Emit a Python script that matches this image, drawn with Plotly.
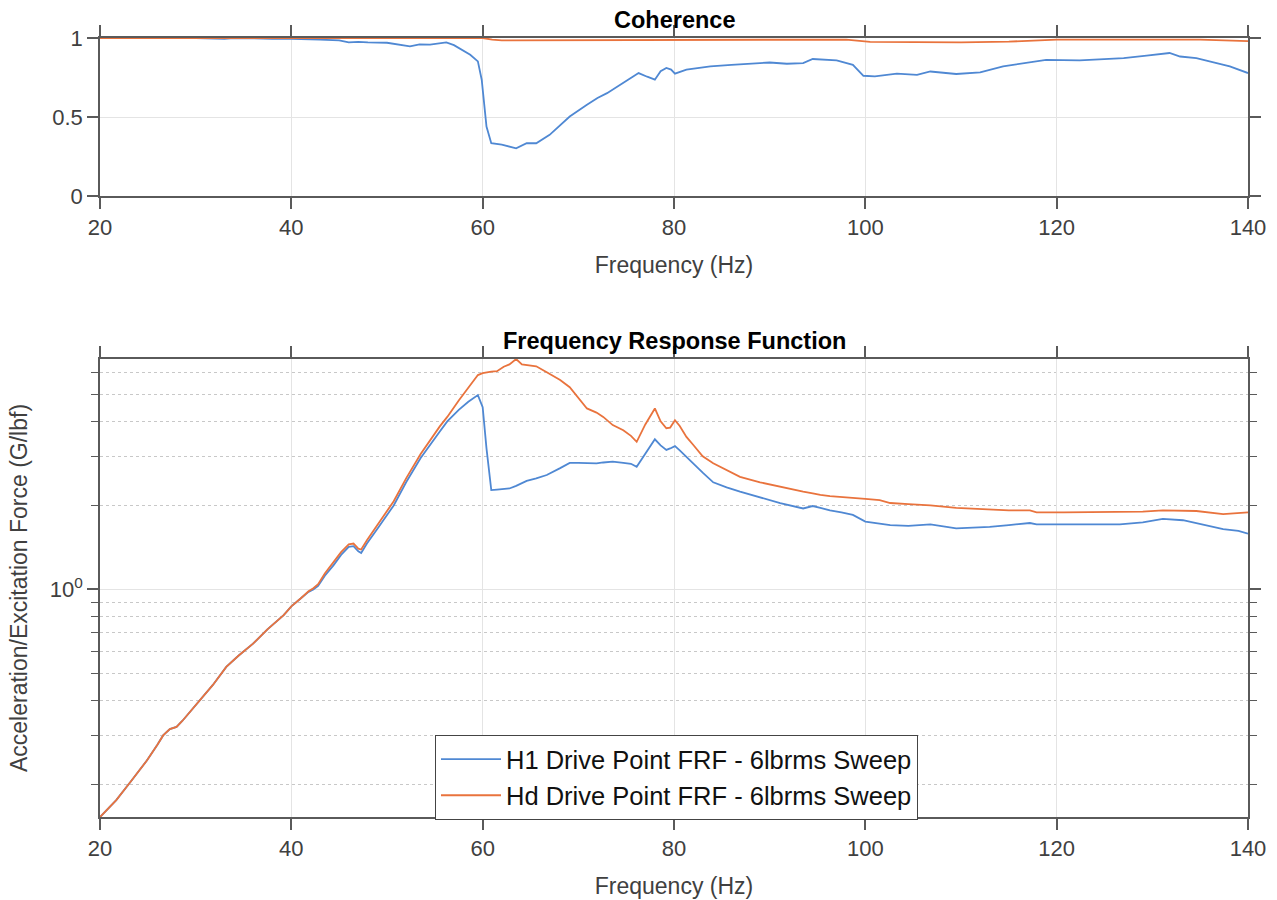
import plotly.graph_objects as go

# ---------------- data ----------------
freq_frf = [20.0, 21.7, 23.3, 24.9, 26.0, 26.6, 27.3, 28.0, 28.6, 29.5, 30.5, 31.8, 33.2, 34.5, 36.0,
            37.5, 39.2, 40.0, 41.0, 41.8, 42.3, 42.8, 43.5, 44.4, 45.2, 46.0, 46.5, 47.0, 47.3, 47.9,
            49.0, 50.7, 52.0, 53.5, 55.5, 56.3, 57.5, 58.5, 59.5, 60.0, 60.4, 60.9, 61.5, 62.2, 62.8,
            63.5, 64.1, 64.6, 65.6, 66.7, 68.1, 69.1, 70.0, 70.9, 71.9, 72.6, 73.6, 74.7, 75.5, 76.1,
            77.0, 78.0, 78.6, 79.2, 79.6, 80.1, 80.6, 81.3, 82.0, 83.0, 84.1, 85.5, 86.9, 89.0, 91.1,
            93.5, 94.5, 95.3, 96.3, 97.5, 98.7, 100.0, 101.5, 102.6, 104.5, 106.0, 106.8, 109.5, 113.0,
            115.0, 117.2, 117.9, 120.7, 126.6, 129.0, 131.1, 133.2, 134.6, 137.4, 139.0, 140.0]
h1_frf = [0.153, 0.176, 0.207, 0.244, 0.278, 0.300, 0.316, 0.322, 0.338, 0.368, 0.401, 0.455, 0.528, 0.580, 0.640,
          0.720, 0.809, 0.870, 0.930, 0.980, 1.000, 1.030, 1.120, 1.220, 1.330, 1.420, 1.430, 1.370, 1.350, 1.460,
          1.650, 2.000, 2.420, 2.950, 3.670, 4.000, 4.400, 4.700, 4.970, 4.500, 3.200, 2.270, 2.280, 2.290, 2.300,
          2.350, 2.400, 2.450, 2.500, 2.570, 2.720, 2.840, 2.840, 2.830, 2.830, 2.850, 2.870, 2.840, 2.820, 2.750,
          3.050, 3.450, 3.280, 3.160, 3.200, 3.260, 3.150, 2.980, 2.830, 2.620, 2.420, 2.320, 2.240, 2.140, 2.040,
          1.950, 1.990, 1.960, 1.920, 1.890, 1.850, 1.750, 1.720, 1.700, 1.690, 1.700, 1.710, 1.655, 1.675,
          1.700, 1.730, 1.710, 1.710, 1.710, 1.740, 1.790, 1.770, 1.730, 1.645, 1.620, 1.585]
hd_frf = [0.153, 0.176, 0.207, 0.244, 0.278, 0.300, 0.316, 0.322, 0.338, 0.368, 0.401, 0.455, 0.528, 0.580, 0.640,
          0.720, 0.809, 0.870, 0.930, 0.985, 1.010, 1.045, 1.140, 1.250, 1.360, 1.450, 1.460, 1.400, 1.390, 1.500,
          1.700, 2.070, 2.500, 3.050, 3.830, 4.150, 4.750, 5.300, 5.860, 5.950, 6.000, 6.030, 6.050, 6.280, 6.400,
          6.690, 6.400, 6.370, 6.300, 6.000, 5.630, 5.300, 4.850, 4.450, 4.300, 4.150, 3.880, 3.720, 3.550, 3.380,
          3.900, 4.450, 4.000, 3.780, 3.800, 4.040, 3.850, 3.520, 3.300, 3.000, 2.830, 2.670, 2.530, 2.420, 2.330,
          2.240, 2.210, 2.180, 2.160, 2.140, 2.120, 2.110, 2.090, 2.040, 2.020, 2.010, 2.000, 1.960, 1.930,
          1.920, 1.920, 1.890, 1.890, 1.890, 1.900, 1.920, 1.920, 1.910, 1.860, 1.880, 1.890]

freq_coh_h1 = [20, 30, 33, 34, 38, 40, 43, 45, 46, 47, 48, 50, 52.4, 53.4, 54.5, 56.2, 57, 58.7, 59.5, 59.9,
               60.4, 60.9, 62, 63.5, 64.6, 65.6, 67, 69.1, 70.9, 72, 73, 74.7, 76.3, 77.2, 78, 78.6, 79.2,
               79.7, 80.1, 81.3, 83.8, 86, 88.3, 90, 91.8, 93.5, 94.5, 96, 97, 98.7, 99.8, 101, 103.3, 105.4,
               106.8, 109.5, 112, 114.4, 117.2, 118.9, 122.4, 127, 129.4, 131.8, 132.9, 134.6, 138.1, 140]
coh_h1 = [1.0, 1.0, 0.995, 1.0, 0.995, 0.995, 0.99, 0.985, 0.972, 0.975, 0.972, 0.97, 0.947, 0.96, 0.958, 0.972,
          0.955, 0.894, 0.852, 0.736, 0.44, 0.334, 0.325, 0.302, 0.334, 0.334, 0.387, 0.503, 0.577, 0.62, 0.651,
          0.715, 0.778, 0.755, 0.736, 0.79, 0.81, 0.80, 0.774, 0.80, 0.82, 0.83, 0.841, 0.845, 0.837, 0.841,
          0.867, 0.862, 0.858, 0.83, 0.761, 0.757, 0.774, 0.767, 0.788, 0.772, 0.782, 0.82, 0.845, 0.862, 0.858,
          0.873, 0.888, 0.905, 0.883, 0.873, 0.82, 0.778]

freq_coh_hd = [20, 60, 61, 62, 98, 99, 100.5, 110, 115, 120, 130, 135, 140]
coh_hd = [1.0, 1.0, 0.99, 0.985, 0.99, 0.985, 0.975, 0.972, 0.977, 0.99, 0.992, 0.99, 0.98]

x_ticks = [20, 40, 60, 80, 100, 120, 140]
coh_ticks = [0, 0.5, 1]
coh_tick_text = ["0", "0.5", "1"]
frf_major_ticks = [1]
frf_major_text = ["10<sup>0</sup>"]
frf_minor_ticks = [0.2, 0.3, 0.4, 0.5, 0.6, 0.7, 0.8, 0.9, 2, 3, 4, 5, 6]

name_h1 = "H1 Drive Point FRF - 6lbrms Sweep"
name_hd = "Hd Drive Point FRF - 6lbrms Sweep"

# ---------------- style ----------------
BLUE = "#4f88d3"
ORANGE = "#e9733d"
AX = "#5a5a5a"
TXT = "#404040"
GRID = "#e4e4e4"
FONT = "Liberation Sans, Arial, sans-serif"
W, H = 1277, 900

fig = go.Figure()
fig.add_trace(go.Scatter(x=freq_coh_h1, y=coh_h1, mode="lines", line=dict(color=BLUE, width=1.8),
                         showlegend=False, xaxis="x", yaxis="y"))
fig.add_trace(go.Scatter(x=freq_coh_hd, y=coh_hd, mode="lines", line=dict(color=ORANGE, width=1.8),
                         showlegend=False, xaxis="x", yaxis="y"))
fig.add_trace(go.Scatter(x=freq_frf, y=h1_frf, mode="lines", name=name_h1,
                         line=dict(color=BLUE, width=1.8), xaxis="x2", yaxis="y2"))
fig.add_trace(go.Scatter(x=freq_frf, y=hd_frf, mode="lines", name=name_hd,
                         line=dict(color=ORANGE, width=1.8), xaxis="x2", yaxis="y2"))

xdom = [100 / W, 1248 / W]
common_x = dict(range=[20, 140], tickmode="array", tickvals=x_ticks, ticks="outside", ticklen=11,
                tickwidth=1.5, tickcolor=AX, showline=True, linecolor=AX, linewidth=1.5, mirror="ticks",
                showgrid=True, gridcolor=GRID, gridwidth=1, zeroline=False, automargin=False,
                tickfont=dict(size=22, color=TXT, family=FONT), layer="below traces",
                title=dict(text="Frequency (Hz)", font=dict(size=23, color=TXT, family=FONT), standoff=18))

fig.update_layout(
    width=W, height=H, autosize=False,
    margin=dict(l=0, r=0, t=0, b=0, autoexpand=False),
    paper_bgcolor="white", plot_bgcolor="white",
    font=dict(family=FONT, color=TXT),
    xaxis=dict(domain=xdom, anchor="y", **common_x),
    yaxis=dict(domain=[1 - 196 / H, 1 - 38 / H], anchor="x", range=[0, 1], tickmode="array",
               tickvals=coh_ticks, ticktext=coh_tick_text, ticks="outside", ticklen=11, tickwidth=1.5,
               tickcolor=AX, showline=True, linecolor=AX, linewidth=1.5, mirror="ticks", automargin=False,
               showgrid=True, gridcolor=GRID, zeroline=False, layer="below traces",
               tickfont=dict(size=22, color=TXT, family=FONT)),
    xaxis2=dict(domain=xdom, anchor="y2", **common_x),
    yaxis2=dict(domain=[1 - 817 / H, 1 - 359 / H], anchor="x2", type="log", range=[-0.815, 0.8255],
                tickmode="array", tickvals=frf_major_ticks, ticktext=frf_major_text,
                ticks="outside", ticklen=11, tickwidth=1.5, tickcolor=AX, automargin=False,
                showline=True, linecolor=AX, linewidth=1.5, mirror="ticks",
                showgrid=True, gridcolor=GRID, zeroline=False, layer="below traces",
                tickfont=dict(size=22, color=TXT, family=FONT),
                minor=dict(tickmode="array", tickvals=frf_minor_ticks, ticks="outside", ticklen=7,
                           tickwidth=1.2, tickcolor=AX, showgrid=True, griddash="dot",
                           gridcolor="#c8c8c8", gridwidth=1),
                title=dict(text="Acceleration/Excitation Force (G/lbf)",
                           font=dict(size=23, color=TXT, family=FONT), standoff=16)),
    legend=dict(x=435 / W, y=1 - 735 / H, xanchor="left", yanchor="top", bgcolor="white",
                bordercolor="#444444", borderwidth=1, font=dict(size=25.5, color="#111111", family=FONT),
                tracegroupgap=0, itemwidth=60),
    annotations=[
        dict(text="<b>Coherence</b>", x=674 / W, y=1 - 20 / H, xref="paper", yref="paper",
             showarrow=False, xanchor="center", yanchor="middle",
             font=dict(size=23.5, color="black", family=FONT)),
        dict(text="<b>Frequency Response Function</b>", x=674 / W, y=1 - 341 / H, xref="paper",
             yref="paper", showarrow=False, xanchor="center", yanchor="middle",
             font=dict(size=23.5, color="black", family=FONT)),
    ],
)

fig.write_html("out.html")
